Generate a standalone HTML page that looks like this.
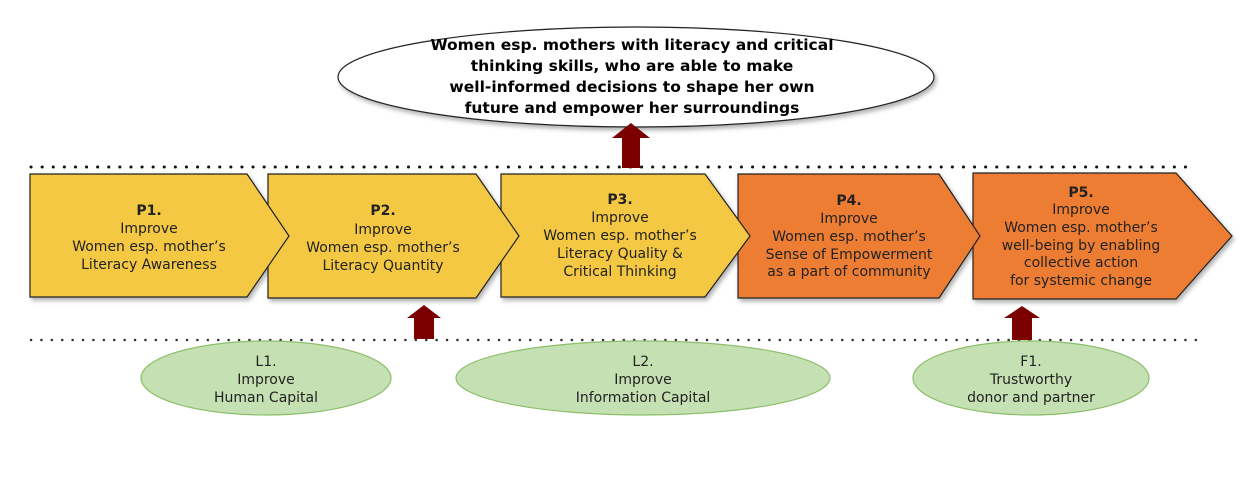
<!DOCTYPE html>
<html><head><meta charset="utf-8"><style>
html,body{margin:0;padding:0;background:#fff;}
svg{display:block;}
text{font-family:"DejaVu Sans","Liberation Sans",sans-serif;font-size:14px;fill:#222;}
.b{font-weight:bold;}
.t{font-weight:bold;font-size:15.5px;fill:#000;}
</style></head><body>
<svg width="1259" height="477" viewBox="0 0 1259 477" xmlns="http://www.w3.org/2000/svg">
<defs>
<filter id="sh" x="-5%" y="-5%" width="115%" height="120%"><feDropShadow dx="2" dy="3" stdDeviation="2" flood-color="#000" flood-opacity="0.3"/></filter>
</defs>
<line x1="31" y1="167" x2="1196" y2="167" stroke="#111" stroke-width="3" stroke-dasharray="0.1 11" stroke-linecap="round"/>
<line x1="31" y1="340" x2="1196" y2="340" stroke="#333" stroke-width="2.5" stroke-dasharray="0.1 10.3" stroke-linecap="round"/>
<ellipse cx="636" cy="77" rx="298" ry="50" fill="#fff" stroke="#222" stroke-width="1.2" filter="url(#sh)"/>
<text class="t" text-anchor="middle"><tspan x="632" y="50">Women esp. mothers with literacy and critical</tspan><tspan x="632" y="71">thinking skills, who are able to make</tspan><tspan x="632" y="92">well-informed decisions to shape her own</tspan><tspan x="632" y="113">future and empower her surroundings</tspan></text>
<polygon points="622,168 622,138 612,138 631,123 650,138 640,138 640,168" fill="#7b0000"/>
<polygon points="414,339 414,318 407,318 424,305 441,318 434,318 434,339" fill="#7b0000"/>
<polygon points="1012,340 1012,318 1004,318 1022,306 1040,318 1032,318 1032,340" fill="#7b0000"/>
<g stroke="#222" stroke-width="1.2" filter="url(#sh)">
<polygon points="973,173 1176,173 1232,236 1176,299 973,299" fill="#ed7d31"/>
<polygon points="738,174 939,174 980,236 939,298 738,298" fill="#ed7d31"/>
<polygon points="501,174 705,174 750,236 705,297 501,297" fill="#f4c842"/>
<polygon points="268,174 476,174 519,236 476,298 268,298" fill="#f4c842"/>
<polygon points="30,174 247,174 289,236 247,297 30,297" fill="#f4c842"/>
</g>
<text text-anchor="middle"><tspan class="b" x="149" y="215">P1.</tspan><tspan x="149" y="233">Improve</tspan><tspan x="149" y="251">Women esp. mother’s</tspan><tspan x="149" y="269">Literacy Awareness</tspan></text>
<text text-anchor="middle"><tspan class="b" x="383" y="215">P2.</tspan><tspan x="383" y="234">Improve</tspan><tspan x="383" y="252">Women esp. mother’s</tspan><tspan x="383" y="270">Literacy Quantity</tspan></text>
<text text-anchor="middle"><tspan class="b" x="620" y="204">P3.</tspan><tspan x="620" y="222">Improve</tspan><tspan x="620" y="240">Women esp. mother’s</tspan><tspan x="620" y="258">Literacy Quality &amp;</tspan><tspan x="620" y="276">Critical Thinking</tspan></text>
<text text-anchor="middle"><tspan class="b" x="849" y="205">P4.</tspan><tspan x="849" y="223">Improve</tspan><tspan x="849" y="241">Women esp. mother’s</tspan><tspan x="849" y="259">Sense of Empowerment</tspan><tspan x="849" y="276">as a part of community</tspan></text>
<text text-anchor="middle"><tspan class="b" x="1081" y="197">P5.</tspan><tspan x="1081" y="214">Improve</tspan><tspan x="1081" y="232">Women esp. mother’s</tspan><tspan x="1081" y="250">well-being by enabling</tspan><tspan x="1081" y="267">collective action</tspan><tspan x="1081" y="285">for systemic change</tspan></text>
<g fill="#c5e0b3" stroke="#8cbf6a" stroke-width="1.2">
<ellipse cx="266" cy="378" rx="125" ry="37"/>
<ellipse cx="643" cy="378" rx="187" ry="37"/>
<ellipse cx="1031" cy="378" rx="118" ry="37"/>
</g>
<text text-anchor="middle"><tspan x="266" y="366">L1.</tspan><tspan x="266" y="384">Improve</tspan><tspan x="266" y="402">Human Capital</tspan></text>
<text text-anchor="middle"><tspan x="643" y="366">L2.</tspan><tspan x="643" y="384">Improve</tspan><tspan x="643" y="402">Information Capital</tspan></text>
<text text-anchor="middle"><tspan x="1031" y="366">F1.</tspan><tspan x="1031" y="384">Trustworthy</tspan><tspan x="1031" y="402">donor and partner</tspan></text>
</svg>
</body></html>
